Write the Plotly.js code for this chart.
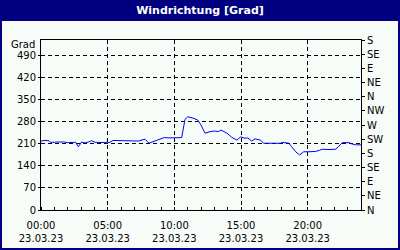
<!DOCTYPE html>
<html>
<head>
<meta charset="utf-8">
<script src="https://cdn.plot.ly/plotly-3.0.1.min.js"></script>
<style>html,body{margin:0;padding:0;background:#000080;}#chart{width:400px;height:250px;}</style>
</head>
<body>
<div id="chart"></div>
<script>
// time of day in hours (23.03.23)
const hours = [0, 0.3, 0.6, 0.7, 1.0, 1.2, 1.7, 2.0, 2.6, 2.8, 3.05, 3.3, 3.55, 3.8, 4.05, 4.3, 4.8, 4.95, 5.1, 5.4,
  6.0, 6.5, 7.0, 7.3, 7.8, 8.1, 8.4, 8.8, 9.25, 9.6, 10.0, 10.4, 10.55, 10.8, 11.0, 11.4, 11.75, 12.0, 12.3, 12.6,
  13.0, 13.3, 13.5, 13.95, 14.3, 14.7, 14.95, 15.3, 15.5, 15.8, 16.05, 16.45, 16.7, 17.2, 17.95, 18.1, 18.6, 18.8,
  19.1, 19.4, 19.7, 20.1, 20.6, 20.9, 21.1, 21.6, 22.1, 22.3, 22.6, 23.1, 23.3, 23.6, 24.0];
const direction = [219, 221, 220, 215, 215, 216, 216, 214, 215, 201, 216, 213, 216, 220, 215, 214, 214, 216, 214, 221,
  220, 220, 220, 219, 225, 212, 217, 222, 230, 229, 229, 228, 230, 288, 296, 292, 286, 270, 244, 248,
  251, 249, 254, 244, 231, 222, 232, 228, 229, 219, 226, 222, 212, 212, 212, 215, 212, 201,
  185, 175, 185, 185, 186, 190, 193, 192, 193, 201, 214, 214, 210, 207, 207];

const xTickVals = [0, 5, 10, 15, 20];
const xTickText = ["00:00<br>23.03.23", "05:00<br>23.03.23", "10:00<br>23.03.23", "15:00<br>23.03.23", "20:00<br>23.03.23"];
const yTickVals = [0, 70, 140, 210, 280, 350, 420, 490];
const compassVals = [0, 45, 90, 135, 180, 225, 270, 315, 360, 405, 450, 495, 540];
const compassText = ["N", "NE", "E", "SE", "S", "SW", "W", "NW", "N", "NE", "E", "SE", "S"];

const font = {family: "DejaVu Sans, Liberation Sans, sans-serif", size: 10, color: "#000"};
const bg = "#f8fcf8";

const data = [
  {x: hours, y: direction, type: "scatter", mode: "lines", line: {color: "#0000ff", width: 1}, hoverinfo: "skip"},
  {x: [0, 24], y: [0, 0], yaxis: "y2", type: "scatter", mode: "lines", line: {width: 0}, showlegend: false, hoverinfo: "skip"}
];

const layout = {
  width: 400, height: 250,
  margin: {l: 41, r: 39, t: 40, b: 40},
  paper_bgcolor: "#000080",
  plot_bgcolor: bg,
  showlegend: false,
  font: font,
  title: {text: "<b>Windrichtung [Grad]</b>", x: 0.5, xanchor: "center", y: 1 - 10.5/250, yanchor: "middle", yref: "container",
          font: {family: "DejaVu Sans, sans-serif", size: 11, color: "#ffffff"}},
  xaxis: {
    range: [0, 24], fixedrange: true,
    tickmode: "array", tickvals: xTickVals, ticktext: xTickText,
    showgrid: true, gridcolor: "#000", gridwidth: 1, griddash: "4px,3px",
    showline: true, linecolor: "#000", linewidth: 1, mirror: true,
    ticks: "", zeroline: false, ticklabelstandoff: 6,
    minor: {tickmode: "linear", tick0: 0, dtick: 1, ticks: "inside", ticklen: 3, tickcolor: "#000", showgrid: false},
    tickfont: font
  },
  yaxis: {
    range: [0, 540], fixedrange: true,
    tickmode: "array", tickvals: yTickVals,
    showgrid: true, gridcolor: "#000", gridwidth: 1, griddash: "4px,3px",
    showline: true, linecolor: "#000", linewidth: 1, mirror: true,
    ticks: "outside", ticklen: 2, tickcolor: "#000", zeroline: false,
    tickfont: font
  },
  yaxis2: {
    range: [0, 540], overlaying: "y", side: "right", fixedrange: true,
    tickmode: "array", tickvals: compassVals, ticktext: compassText,
    showgrid: false, zeroline: false, showline: false,
    ticks: "outside", ticklen: 3, tickcolor: "#000",
    tickfont: font
  },
  shapes: [
    {type: "rect", xref: "paper", yref: "paper", layer: "below",
     x0: (2 - 41) / 320, x1: (398 - 41) / 320, y0: (210 - 248) / 170, y1: (210 - 21) / 170,
     fillcolor: bg, line: {width: 0}}
  ],
  annotations: [
    {text: "Grad", xref: "paper", yref: "paper", x: (37 - 41) / 320, y: (210 - 44.5) / 170,
     xanchor: "right", yanchor: "middle", showarrow: false, font: font}
  ]
};

Plotly.newPlot("chart", data, layout, {staticPlot: true, displayModeBar: false});
</script>
</body>
</html>
